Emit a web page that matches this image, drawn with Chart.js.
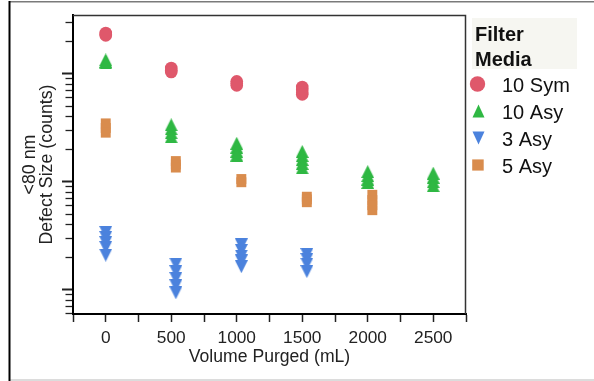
<!DOCTYPE html>
<html>
<head>
<meta charset="utf-8">
<script src="https://cdn.jsdelivr.net/npm/chart.js@4.4.1/dist/chart.umd.min.js"></script>
<style>
  html, body { margin: 0; padding: 0; background: #fff; }
  #wrap { width: 594px; height: 381px; position: relative; }
</style>
</head>
<body>
<div id="wrap"><canvas id="c" width="594" height="381"></canvas></div>
<script>
// Filter media groups and their colours
const mediaNames  = ['10 Sym', '10 Asy', '3 Asy', '5 Asy'];
const mediaColors = ['#df586b', '#2fb843', '#4b82dd', '#d98c4d'];

// Volume purged (mL) and <80 nm defect counts, one pair of arrays per medium
const sym10Volume  = [0, 0, 0, 500, 500, 500, 1000, 1000, 1000, 1500, 1500, 1500, 1500];
const sym10Defects = [2360, 2300, 2245, 1120, 1070, 1030, 843, 805, 773, 747, 700, 660, 638];

const asy10Volume  = [0, 0, 0, 500, 500, 500, 500, 1000, 1000, 1000, 1000,
                      1500, 1500, 1500, 1500, 1500, 2000, 2000, 2000, 2000, 2500, 2500, 2500, 2500];
const asy10Defects = [1334, 1290, 1251, 334, 306, 281, 258, 225, 207, 190, 175,
                      189, 173, 159, 146, 133, 123, 113, 105, 97.5, 119, 109, 99, 91];

const asy3Volume   = [0, 0, 0, 0, 0, 535, 535, 535, 535, 535, 1035, 1035, 1035, 1035, 1035,
                      1535, 1535, 1535, 1535];
const asy3Defects  = [33.6, 30.2, 27.1, 24.4, 20.7, 17.1, 14.6, 12.6, 10.8, 9.28,
                      25.8, 22.9, 20.3, 18.3, 16.2, 21, 18.9, 17.1, 14.6];

const asy5Volume   = [0, 0, 0, 535, 535, 535, 1035, 1035, 1535, 1535, 1535, 2035, 2035, 2035, 2035];
const asy5Defects  = [344, 312, 282, 154, 143, 134, 105, 98, 72, 68, 64, 75, 67, 60, 54];

// Axis settings
const xTickLabels = ['0', '500', '1000', '1500', '2000', '2500'];
const yDecades = [1, 10, 100, 1000];

const FONT = "'Liberation Sans', Arial, sans-serif";
const INK = '#222';

function triangleImage(color, w, h, down) {
  const c = document.createElement('canvas');
  c.width = w; c.height = h;
  const g = c.getContext('2d');
  g.fillStyle = color;
  g.beginPath();
  if (down) { g.moveTo(0, 0); g.lineTo(w, 0); g.lineTo(w / 2, h); }
  else { g.moveTo(w / 2, 0); g.lineTo(w, h); g.lineTo(0, h); }
  g.closePath();
  g.fill();
  return c;
}

function pairs(xs, ys) { return xs.map((x, i) => ({ x: x, y: ys[i] })); }

const markerKinds = ['circle', 'up', 'down', 'square'];
const styles = [
  'circle',
  triangleImage(mediaColors[1], 13, 13, false),
  triangleImage(mediaColors[2], 13, 13, true),
  'rect'
];
const radii = [6.3, 7, 7, 7];
const seriesData = [
  pairs(sym10Volume, sym10Defects),
  pairs(asy10Volume, asy10Defects),
  pairs(asy3Volume, asy3Defects),
  pairs(asy5Volume, asy5Defects)
];

const datasets = mediaNames.map((name, i) => ({
  label: name,
  data: seriesData[i],
  pointStyle: styles[i],
  pointRadius: radii[i],
  pointHoverRadius: radii[i],
  pointBackgroundColor: mediaColors[i],
  pointBorderWidth: 0,
  showLine: false,
  marker: markerKinds[i]
}));

// Outer page frame and the top/right edges of the plot box
const framePlugin = {
  id: 'frame',
  beforeDraw(chart) {
    const ctx = chart.ctx;
    ctx.save();
    ctx.fillStyle = '#fff';
    ctx.fillRect(0, 0, chart.width, chart.height);
    ctx.fillStyle = '#7a7a7a';
    ctx.fillRect(9, 1, chart.width - 9, 1.5);
    ctx.fillStyle = '#dcdcdc';
    ctx.fillRect(10, 379, chart.width - 10, 2);
    ctx.fillStyle = '#000';
    ctx.fillRect(8.5, 1, 2, 380);
    ctx.restore();
  },
  afterDraw(chart) {
    const a = chart.chartArea, ctx = chart.ctx;
    ctx.save();
    ctx.strokeStyle = '#333';
    ctx.lineWidth = 1.5;
    ctx.beginPath();
    ctx.moveTo(a.left, a.top + 0.5);
    ctx.lineTo(a.right - 0.5, a.top + 0.5);
    ctx.lineTo(a.right - 0.5, a.bottom);
    ctx.stroke();
    ctx.restore();
  }
};

// Log-axis tick marks: long at each decade, short at 2..9
const logTickPlugin = {
  id: 'logTicks',
  afterDraw(chart) {
    const s = chart.scales.y, ctx = chart.ctx;
    const x0 = chart.chartArea.left - 1;
    ctx.save();
    ctx.strokeStyle = INK;
    yDecades.forEach(d => {
      for (let m = 1; m <= 9; m++) {
        const v = m * d;
        if (v <= s.min || v >= s.max) continue;
        const y = Math.round(s.getPixelForValue(v)) + 0.5;
        ctx.lineWidth = m === 1 ? 2 : 1.3;
        ctx.beginPath();
        ctx.moveTo(x0 - (m === 1 ? 10 : 6.5), y);
        ctx.lineTo(x0, y);
        ctx.stroke();
      }
    });
    ctx.restore();
  }
};

// Legend block with its "Filter Media" heading
const legendPlugin = {
  id: 'mediaLegend',
  afterDraw(chart) {
    const ctx = chart.ctx;
    ctx.save();
    ctx.fillStyle = '#f6f6f1';
    ctx.fillRect(472, 18, 105, 51);
    ctx.fillStyle = '#111';
    ctx.font = 'bold 20px ' + FONT;
    ctx.textBaseline = 'alphabetic';
    ctx.textAlign = 'left';
    ctx.fillText('Filter', 475, 40.5);
    ctx.fillText('Media', 475, 65.5);
    ctx.font = '20px ' + FONT;
    chart.data.datasets.forEach((ds, i) => {
      const base = 92 + i * 27;
      const cy = base - 8;
      const cx = 478.5;
      ctx.fillStyle = mediaColors[i];
      ctx.beginPath();
      if (ds.marker === 'circle') {
        ctx.arc(cx - 1, cy, 7.7, 0, Math.PI * 2);
      } else if (ds.marker === 'up') {
        ctx.moveTo(cx, cy - 6.6); ctx.lineTo(cx + 6, cy + 6.6); ctx.lineTo(cx - 6, cy + 6.6);
      } else if (ds.marker === 'down') {
        ctx.moveTo(cx - 6, cy - 6.6); ctx.lineTo(cx + 6, cy - 6.6); ctx.lineTo(cx, cy + 6.6);
      } else {
        ctx.rect(cx - 6.3, cy - 5.6, 11.5, 11.2);
      }
      ctx.closePath();
      ctx.fill();
      ctx.fillStyle = '#111';
      ctx.fillText(ds.label, 502, base);
    });
    ctx.restore();
  }
};

new Chart(document.getElementById('c'), {
  type: 'scatter',
  data: { datasets: datasets },
  options: {
    responsive: false,
    animation: false,
    devicePixelRatio: 1,
    layout: { padding: { left: 0, right: 128, top: 15, bottom: 0 } },
    plugins: { legend: { display: false }, tooltip: { enabled: false } },
    scales: {
      x: {
        type: 'linear',
        min: -250,
        max: 2750,
        afterFit(s) { s.height = 67; },
        ticks: {
          stepSize: 250,
          autoSkip: false,
          maxRotation: 0,
          padding: 6,
          color: INK,
          font: { family: FONT, size: 17.3 },
          callback: v => (xTickLabels.includes(String(v)) ? String(v) : '')
        },
        grid: { display: true, drawOnChartArea: false, drawTicks: true, tickLength: 8, tickColor: INK, tickWidth: 1.5 },
        border: { display: true, color: '#000', width: 2 },
        title: {
          display: true,
          text: 'Volume Purged (mL)',
          color: INK,
          font: { family: FONT, size: 17.6, lineHeight: 1.2 },
          padding: { top: 0, bottom: 13 }
        }
      },
      y: {
        type: 'logarithmic',
        min: 5.9,
        max: 3470,
        afterFit(s) { s.width = 73; },
        ticks: { display: false },
        grid: { display: false },
        border: { display: true, color: '#000', width: 2 },
        title: {
          display: true,
          text: ['<80 nm', 'Defect Size (counts)'],
          color: INK,
          font: { family: FONT, size: 17.8, lineHeight: 0.95 },
          padding: { top: 22, bottom: 0 }
        }
      }
    }
  },
  plugins: [framePlugin, logTickPlugin, legendPlugin]
});
</script>
</body>
</html>
